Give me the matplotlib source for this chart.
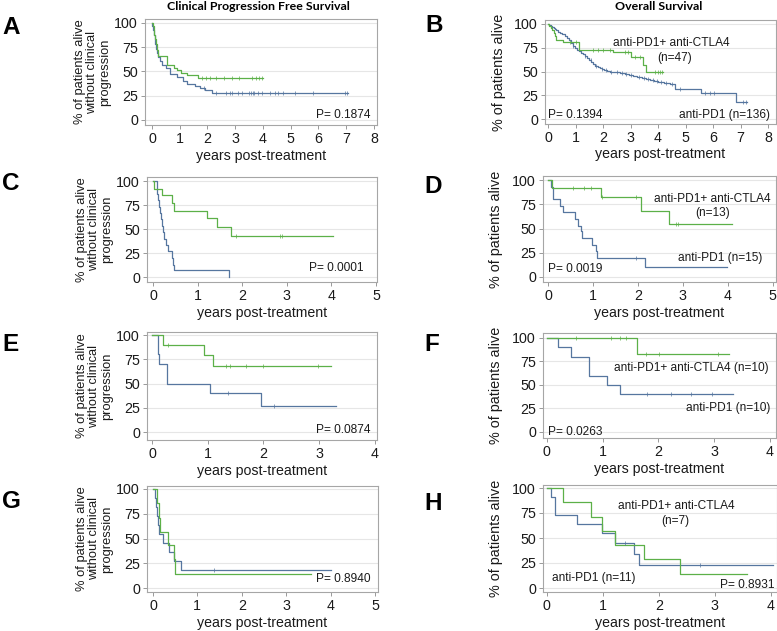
import numpy as np
import matplotlib
matplotlib.use("Agg")
import matplotlib.pyplot as plt

plt.rcParams['font.family'] = ['Liberation Sans', 'DejaVu Sans']

GREEN = '#5cb048'
BLUE = '#56769f'

# ---- data: KM step curves (event times in years, survival % after each event), end of follow-up, censor times
# A: clinical PFS, all patients
a_combo_t = [0.03, 0.06, 0.09, 0.12, 0.15, 0.18, 0.22, 0.56, 0.80, 0.92, 1.04, 1.25, 1.67]
a_combo_s = [97, 93, 88, 83, 78, 72, 66, 57, 54, 52, 48, 46, 43]
a_combo_end = 4.01
a_combo_cens = [1.8, 1.95, 2.1, 2.3, 2.6, 2.9, 3.15, 3.6, 3.75, 3.85, 3.95]
a_pd1_t = [0.02, 0.05, 0.07, 0.10, 0.12, 0.15, 0.18, 0.22, 0.28, 0.38, 0.50, 0.65, 0.89, 1.13, 1.25, 1.55, 1.73, 1.91, 2.15]
a_pd1_s = [97, 93, 88, 83, 78, 73, 69, 65, 61, 57, 54, 47, 44, 40, 37, 35, 33, 31, 28]
a_pd1_end = 7.08
a_pd1_cens = [1.89, 2.31, 2.67, 2.81, 2.89, 3.11, 3.23, 3.51, 3.57, 3.63, 3.69, 3.83, 3.98,
              4.25, 4.43, 4.55, 4.73, 5.15, 5.81, 6.95, 7.04]

# B: overall survival, all patients
b_combo_t = [0.05, 0.10, 0.15, 0.20, 0.25, 0.30, 0.55, 1.12, 2.35, 3.03, 3.45, 3.57]
b_combo_s = [98, 96, 94, 91, 87, 83, 81, 73, 71, 65, 57, 49]
b_combo_end = 4.18
b_combo_cens = [0.79, 1.03, 1.64, 1.82, 2.0, 2.24, 2.79, 2.91, 3.15, 3.33, 3.88, 4.0, 4.08, 4.16]
b_pd1_t = [0.05, 0.1, 0.15, 0.2, 0.25, 0.3, 0.38, 0.45, 0.52, 0.6, 0.68, 0.75, 0.82, 0.9, 0.98,
           1.05, 1.12, 1.2, 1.27, 1.35, 1.42, 1.5, 1.57, 1.64, 1.72, 1.8, 1.88, 1.95, 2.05, 2.15,
           2.25, 2.4, 2.6, 2.8, 2.95, 3.1, 3.25, 3.4, 3.55, 3.7, 3.85, 4.0, 4.2, 4.45, 4.6, 5.55, 6.85]
b_pd1_s = [99, 98, 97, 96, 95, 94, 92, 91, 89, 87, 85, 83, 80, 77, 75,
           73, 72, 70, 68, 66, 64, 62, 60, 58, 56, 55, 54, 53, 52, 51,
           50, 49, 48, 47, 46, 45, 44, 43, 42, 41, 40, 39, 38, 37, 32, 27, 18]
b_pd1_end = 7.22
b_pd1_cens = [0.9, 1.35, 1.55, 1.75, 1.95, 2.1, 2.3, 2.5, 2.7, 2.85, 3.0, 3.3, 3.5, 3.65, 3.8,
              3.95, 4.1, 4.3, 4.5, 4.8, 5.7, 5.9, 6.05, 7.1, 7.2]

# C / D
c_combo_t = [0.02, 0.20, 0.42, 0.46, 1.22, 1.44, 1.74]
c_combo_s = [92, 85, 77, 69, 61, 52, 43]
c_combo_end = 4.04
c_combo_cens = [1.85, 2.85, 2.9]
c_pd1_t = [0.08, 0.10, 0.12, 0.14, 0.16, 0.18, 0.20, 0.22, 0.24, 0.30, 0.34, 0.42, 0.44, 0.46, 1.70]
c_pd1_s = [93, 87, 80, 73, 67, 60, 53, 47, 40, 33, 27, 20, 13, 7, 0]
c_pd1_end = 1.70
c_pd1_cens = []

d_combo_t = [0.08, 1.17, 2.07, 2.70]
d_combo_s = [92, 83, 68, 55]
d_combo_end = 4.10
d_combo_cens = [0.55, 0.8, 0.95, 1.2, 1.95, 2.85, 2.9]
d_pd1_t = [0.07, 0.12, 0.27, 0.33, 0.60, 0.67, 0.73, 0.76, 0.97, 1.07, 1.10, 2.15]
d_pd1_s = [93, 80, 73, 67, 60, 53, 47, 40, 33, 27, 20, 10]
d_pd1_end = 3.98
d_pd1_cens = [1.95]

# E / F
e_combo_t = [0.20, 0.93, 1.10]
e_combo_s = [90, 79, 68]
e_combo_end = 3.22
e_combo_cens = [0.29, 1.33, 1.40, 1.69, 1.99, 2.98]
e_pd1_t = [0.10, 0.12, 0.27, 1.05, 1.95]
e_pd1_s = [80, 70, 50, 40, 27]
e_pd1_end = 3.31
e_pd1_cens = [1.36, 2.19]

f_combo_t = [1.61]
f_combo_s = [83]
f_combo_end = 3.27
f_combo_cens = [0.53, 1.15, 1.31, 1.42, 1.78, 2.01, 3.07]
f_pd1_t = [0.20, 0.44, 0.75, 0.76, 1.07, 1.32]
f_pd1_s = [90, 80, 70, 60, 50, 40]
f_pd1_end = 3.34
f_pd1_cens = [1.8, 2.22, 2.58, 2.96]

# G / H
g_combo_t = [0.09, 0.13, 0.16, 0.33, 0.47, 0.50]
g_combo_s = [86, 71, 57, 43, 29, 14]
g_combo_end = 3.55
g_combo_cens = []
g_pd1_t = [0.05, 0.07, 0.10, 0.11, 0.13, 0.23, 0.35, 0.48, 0.62]
g_pd1_s = [91, 82, 73, 64, 55, 45, 36, 27, 18]
g_pd1_end = 4.02
g_pd1_cens = [1.38]

h_combo_t = [0.28, 0.79, 0.98, 1.21, 1.74, 2.38]
h_combo_s = [86, 71, 57, 43, 29, 14]
h_combo_end = 3.57
h_combo_cens = []
h_pd1_t = [0.08, 0.14, 0.54, 0.99, 1.21, 1.55, 1.65]
h_pd1_s = [91, 73, 64, 55, 45, 34, 23]
h_pd1_end = 4.04
h_pd1_cens = [1.40, 2.73]

p_values = ['P= 0.1874', 'P= 0.1394', 'P= 0.0001', 'P= 0.0019',
            'P= 0.0874', 'P= 0.0263', 'P= 0.8940', 'P= 0.8931']
y_ticks = [0, 25, 50, 75, 100]

W, H = 777, 631
fig = plt.figure(figsize=(W / 100, H / 100), dpi=100)


def rect(l, r, t, b):
    return [l / W, 1 - b / H, (r - l) / W, (b - t) / H]


def km(ax, t, s, end, cens, color):
    x = [0] + list(t) + [end]
    y = [100] + list(s) + [s[-1]]
    ax.step(x, y, where='post', color=color, lw=0.9, zorder=3)
    if cens:
        idx = np.searchsorted(np.array(t), np.array(cens), side='right')
        yy = np.array([100] + list(s))[idx]
        ax.plot(cens, yy, ls='none', marker='|', ms=2.8, mew=0.5, color=color, zorder=4)


def setup(ax, xlim, ylim, xticks, left):
    ax.set_xlim(*xlim)
    ax.set_ylim(*ylim)
    ax.set_xticks(xticks)
    ax.set_yticks(y_ticks)
    ax.tick_params(direction='out', length=3, width=0.7, color='#999999',
                   labelsize=10.3, labelcolor='#1a1a1a', pad=2)
    for sp in ax.spines.values():
        sp.set_color('#a6a6a6')
        sp.set_linewidth(0.8)
    ax.grid(axis='y', color='#e6e6e6', lw=0.8, zorder=0)
    ax.set_axisbelow(True)
    ax.set_xlabel('years post-treatment', fontsize=10.2, color='#1a1a1a')
    ax.xaxis.set_label_coords(0.5, -0.225)
    if left:
        ax.set_ylabel('% of patients alive\nwithout clinical\nprogression',
                      fontsize=9.3, linespacing=1.05, color='#1a1a1a')
        ax.yaxis.set_label_coords(-0.148, 0.5)
    else:
        ax.set_ylabel('% of patients alive', fontsize=10.4, color='#1a1a1a')
        ax.yaxis.set_label_coords(-0.17, 0.5)


txt = dict(fontsize=8.6, color='#1a1a1a')

# A
ax = fig.add_axes(rect(145, 377, 19, 125))
setup(ax, (-0.25, 8.11), (-5.2, 104.1), range(0, 9), True)
km(ax, a_pd1_t, a_pd1_s, a_pd1_end, a_pd1_cens, BLUE)
km(ax, a_combo_t, a_combo_s, a_combo_end, a_combo_cens, GREEN)
ax.text(0.973, 0.094, p_values[0], transform=ax.transAxes, ha='right', va='center', **txt)

# B
ax = fig.add_axes(rect(545, 776, 20, 124))
setup(ax, (-0.11, 8.29), (-5.2, 104.2), range(0, 9), False)
km(ax, b_pd1_t, b_pd1_s, b_pd1_end, b_pd1_cens, BLUE)
km(ax, b_combo_t, b_combo_s, b_combo_end, b_combo_cens, GREEN)
ax.text(0.545, 0.78, 'anti-PD1+ anti-CTLA4', transform=ax.transAxes, ha='center', va='center', **txt)
ax.text(0.563, 0.635, '(n=47)', transform=ax.transAxes, ha='center', va='center', **txt)
ax.text(0.974, 0.087, 'anti-PD1 (n=136)', transform=ax.transAxes, ha='right', va='center', **txt)
ax.text(0.012, 0.087, p_values[1], transform=ax.transAxes, ha='left', va='center', **txt)

# C
ax = fig.add_axes(rect(147, 377, 177, 282))
setup(ax, (-0.135, 5.02), (-5.2, 104.2), range(0, 6), True)
km(ax, c_pd1_t, c_pd1_s, c_pd1_end, c_pd1_cens, BLUE)
km(ax, c_combo_t, c_combo_s, c_combo_end, c_combo_cens, GREEN)
ax.text(0.943, 0.133, p_values[2], transform=ax.transAxes, ha='right', va='center', **txt)

# D
ax = fig.add_axes(rect(543, 776, 176, 282))
setup(ax, (-0.11, 5.07), (-5.2, 104.2), range(0, 6), False)
km(ax, d_pd1_t, d_pd1_s, d_pd1_end, d_pd1_cens, BLUE)
km(ax, d_combo_t, d_combo_s, d_combo_end, d_combo_cens, GREEN)
ax.text(0.725, 0.78, 'anti-PD1+ anti-CTLA4', transform=ax.transAxes, ha='center', va='center', **txt)
ax.text(0.73, 0.65, '(n=13)', transform=ax.transAxes, ha='center', va='center', **txt)
ax.text(0.76, 0.226, 'anti-PD1 (n=15)', transform=ax.transAxes, ha='center', va='center', **txt)
ax.text(0.02, 0.12, p_values[3], transform=ax.transAxes, ha='left', va='center', **txt)

# E
ax = fig.add_axes(rect(147, 377, 332, 440))
setup(ax, (-0.09, 4.04), (-8.2, 103.1), range(0, 5), True)
km(ax, e_pd1_t, e_pd1_s, e_pd1_end, e_pd1_cens, BLUE)
km(ax, e_combo_t, e_combo_s, e_combo_end, e_combo_cens, GREEN)
ax.text(0.972, 0.09, p_values[4], transform=ax.transAxes, ha='right', va='center', **txt)

# F
ax = fig.add_axes(rect(543, 776, 333, 438))
setup(ax, (-0.07, 4.11), (-6.4, 105.3), range(0, 5), False)
km(ax, f_pd1_t, f_pd1_s, f_pd1_end, f_pd1_cens, BLUE)
km(ax, f_combo_t, f_combo_s, f_combo_end, f_combo_cens, GREEN)
ax.text(0.97, 0.667, 'anti-PD1+ anti-CTLA4 (n=10)', transform=ax.transAxes, ha='right', va='center', **txt)
ax.text(0.977, 0.285, 'anti-PD1 (n=10)', transform=ax.transAxes, ha='right', va='center', **txt)
ax.text(0.02, 0.06, p_values[5], transform=ax.transAxes, ha='left', va='center', **txt)

# G
ax = fig.add_axes(rect(147, 378, 486, 592))
setup(ax, (-0.135, 5.07), (-4.0, 103.0), range(0, 6), True)
km(ax, g_pd1_t, g_pd1_s, g_pd1_end, g_pd1_cens, BLUE)
km(ax, g_combo_t, g_combo_s, g_combo_end, g_combo_cens, GREEN)
ax.text(0.968, 0.12, p_values[6], transform=ax.transAxes, ha='right', va='center', **txt)

# H
ax = fig.add_axes(rect(543, 777, 485, 592))
setup(ax, (-0.07, 4.11), (-4.0, 103.0), range(0, 5), False)
km(ax, h_pd1_t, h_pd1_s, h_pd1_end, h_pd1_cens, BLUE)
km(ax, h_combo_t, h_combo_s, h_combo_end, h_combo_cens, GREEN)
ax.text(0.57, 0.80, 'anti-PD1+ anti-CTLA4', transform=ax.transAxes, ha='center', va='center', **txt)
ax.text(0.565, 0.66, '(n=7)', transform=ax.transAxes, ha='center', va='center', **txt)
ax.text(0.037, 0.13, 'anti-PD1 (n=11)', transform=ax.transAxes, ha='left', va='center', **txt)
ax.text(0.99, 0.065, p_values[7], transform=ax.transAxes, ha='right', va='center', **txt)

# headers and panel letters
fig.text(258 / W, 1 - 6 / H, 'Clinical Progression Free Survival', ha='center', va='center',
         fontsize=8.9, fontweight='bold', family=['Lato', 'DejaVu Sans'])
fig.text(659 / W, 1 - 6 / H, 'Overall Survival', ha='center', va='center',
         fontsize=8.9, fontweight='bold', family=['Lato', 'DejaVu Sans'])
letters = ['A', 'B', 'C', 'D', 'E', 'F', 'G', 'H']
letter_xy = [(11, 27), (434, 26), (11, 184), (433, 186), (11, 344), (432, 344), (11, 502), (433, 503)]
for lab, (lx, ly) in zip(letters, letter_xy):
    fig.text(lx / W, 1 - ly / H, lab, ha='center', va='center', fontsize=17.5, fontweight='bold')

fig.savefig('out.png', dpi=100, facecolor='white')
